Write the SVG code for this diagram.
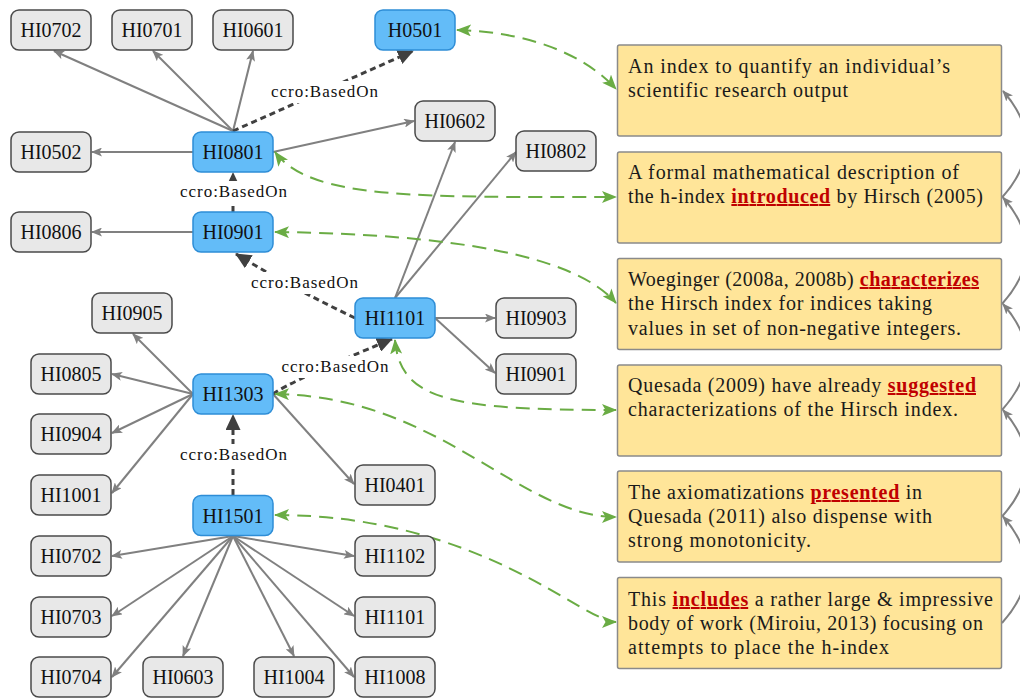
<svg xmlns="http://www.w3.org/2000/svg" width="1020" height="698" viewBox="0 0 1020 698">
  <style>
    .node rect { stroke-width: 1.5; }
    .gray rect { fill: #e8e8e8; stroke: #4a4a4a; }
    .blue rect { fill: #63bcf8; stroke: #2e8dd6; }
    .node text { font-family: "Liberation Serif", "Times New Roman", serif; font-size: 20px; fill: #111; text-anchor: middle; }
    .sent rect { fill: #ffe599; stroke: #8a8a8a; stroke-width: 1.5; }
    .sent text { font-family: "Liberation Serif", "Times New Roman", serif; font-size: 20px; fill: #1a1a1a; }
    .hl { fill: #c00000; font-weight: bold; text-decoration: underline; }
    .link { fill: none; stroke: #808080; stroke-width: 2; marker-end: url(#headGray); }
    .based { fill: none; stroke: #404040; stroke-width: 3; stroke-dasharray: 6 4; marker-end: url(#headDark); }
    .ref { fill: none; stroke: #6aac44; stroke-width: 2; stroke-dasharray: 14 8; marker-start: url(#headGreen); marker-end: url(#headGreen); }
    .next { fill: none; stroke: #808080; stroke-width: 2; marker-end: url(#headGray); }
    .lblbg { fill: #ffffff; }
    .lbl { font-family: "Liberation Serif", "Times New Roman", serif; font-size: 17px; fill: #111; text-anchor: middle; }
  </style>
  <defs>
    <marker id="headGray" viewBox="0 0 11 9" refX="10" refY="4.5" markerWidth="11" markerHeight="9" markerUnits="userSpaceOnUse" orient="auto">
      <path d="M0,0 L11,4.5 L0,9 L2.5,4.5 z" fill="#808080"/>
    </marker>
    <marker id="headDark" viewBox="0 0 16 15" refX="15" refY="7.5" markerWidth="16" markerHeight="15" markerUnits="userSpaceOnUse" orient="auto">
      <path d="M0,0 L16,7.5 L0,15 z" fill="#404040"/>
    </marker>
    <marker id="headGreen" viewBox="0 0 15 12" refX="14" refY="6" markerWidth="15" markerHeight="12" markerUnits="userSpaceOnUse" orient="auto-start-reverse">
      <path d="M0,0 L15,6 L0,12 L3.5,6 z" fill="#6aac44"/>
    </marker>
  </defs>

  <!-- connectors -->
  <g id="connectors">
    <!-- citation links -->
    <path class="link" d="M233,131 L54,51"/>
    <path class="link" d="M233,131 L153,51"/>
    <path class="link" d="M233,131 L253,51"/>
    <path class="link" d="M193,152 L92,152"/>
    <path class="link" d="M273,152 L414,121"/>
    <path class="link" d="M193,232 L92,232"/>
    <path class="link" d="M395,298 L455,142"/>
    <path class="link" d="M395,298 L516,152"/>
    <path class="link" d="M435,318 L495,318"/>
    <path class="link" d="M435,318 L495,373"/>
    <path class="link" d="M193,394 L133,334"/>
    <path class="link" d="M193,394 L112,374"/>
    <path class="link" d="M193,394 L112,433"/>
    <path class="link" d="M193,394 L112,493"/>
    <path class="link" d="M273,394 L354,484"/>
    <path class="link" d="M233,536 L112,556"/>
    <path class="link" d="M233,536 L112,616"/>
    <path class="link" d="M233,536 L112,677"/>
    <path class="link" d="M233,536 L183,656"/>
    <path class="link" d="M233,536 L294,656"/>
    <path class="link" d="M233,536 L354,556"/>
    <path class="link" d="M233,536 L354,616"/>
    <path class="link" d="M233,536 L354,677"/>

    <!-- ccro:BasedOn relations -->
    <path class="based" d="M233,131 L413,51"/>
    <path class="based" d="M233,212 L233,173"/>
    <path class="based" d="M355,318 Q292,288 236,254"/>
    <path class="based" d="M273,394 Q291,381 392,339"/>
    <path class="based" d="M233,495 L233,415"/>

    <!-- relation labels -->
    <rect class="lblbg" x="268" y="81" width="113" height="22"/>
    <text class="lbl" x="324.5" y="97" textLength="107">ccro:BasedOn</text>
    <rect class="lblbg" x="177" y="181" width="113" height="22"/>
    <text class="lbl" x="233.5" y="197" textLength="107">ccro:BasedOn</text>
    <rect class="lblbg" x="248" y="272" width="113" height="22"/>
    <text class="lbl" x="304.5" y="288" textLength="107">ccro:BasedOn</text>
    <rect class="lblbg" x="279" y="356" width="113" height="22"/>
    <text class="lbl" x="335" y="372" textLength="107">ccro:BasedOn</text>
    <rect class="lblbg" x="177" y="444" width="113" height="22"/>
    <text class="lbl" x="233.5" y="460" textLength="107">ccro:BasedOn</text>

    <!-- node to sentence references -->
    <path class="ref" d="M457,30 C530,32 585,55 616,89"/>
    <path class="ref" d="M275,152 C310,200 420,197 616,197"/>
    <path class="ref" d="M275,232 C450,234 575,255 616,303"/>
    <path class="ref" d="M395,340 C400,400 450,410 616,410"/>
    <path class="ref" d="M275,394 C440,396 520,517 616,517"/>
    <path class="ref" d="M275,515 C480,515 583,622 616,622"/>

    <!-- sentence sequence -->
    <path class="next" d="M1002,623 Q1050,569.7 1003,516.5"/>
    <path class="next" d="M1002,516.5 Q1050,463 1003,410"/>
    <path class="next" d="M1002,410 Q1050,357 1003,304"/>
    <path class="next" d="M1002,304 Q1050,250.7 1003,197.5"/>
    <path class="next" d="M1002,197.5 Q1050,144 1003,91"/>
  </g>

  <!-- nodes -->
  <g id="n-HI0702-a" class="node gray"><rect x="11" y="10" width="80" height="40" rx="8"/><text x="51" y="37">HI0702</text></g>
  <g id="n-HI0701" class="node gray"><rect x="112" y="10" width="80" height="40" rx="8"/><text x="152" y="37">HI0701</text></g>
  <g id="n-HI0601" class="node gray"><rect x="213" y="10" width="80" height="40" rx="8"/><text x="253" y="37">HI0601</text></g>
  <g id="n-H0501" class="node blue"><rect x="375" y="10" width="80" height="40" rx="8"/><text x="415" y="37">H0501</text></g>
  <g id="n-HI0502" class="node gray"><rect x="11" y="132" width="80" height="40" rx="8"/><text x="51" y="159">HI0502</text></g>
  <g id="n-HI0801" class="node blue"><rect x="193" y="132" width="80" height="40" rx="8"/><text x="233" y="159">HI0801</text></g>
  <g id="n-HI0806" class="node gray"><rect x="11" y="212" width="80" height="40" rx="8"/><text x="51" y="239">HI0806</text></g>
  <g id="n-HI0901" class="node blue"><rect x="193" y="212" width="80" height="40" rx="8"/><text x="233" y="239">HI0901</text></g>
  <g id="n-HI0602" class="node gray"><rect x="415" y="101" width="80" height="40" rx="8"/><text x="455" y="128">HI0602</text></g>
  <g id="n-HI0802" class="node gray"><rect x="516" y="131" width="80" height="40" rx="8"/><text x="556" y="158">HI0802</text></g>
  <g id="n-HI1101" class="node blue"><rect x="355" y="298" width="80" height="40" rx="8"/><text x="395" y="325">HI1101</text></g>
  <g id="n-HI0903" class="node gray"><rect x="496" y="298" width="80" height="40" rx="8"/><text x="536" y="325">HI0903</text></g>
  <g id="n-HI0901-b" class="node gray"><rect x="496" y="354" width="80" height="40" rx="8"/><text x="536" y="381">HI0901</text></g>
  <g id="n-HI0905" class="node gray"><rect x="92" y="293" width="80" height="40" rx="8"/><text x="132" y="320">HI0905</text></g>
  <g id="n-HI0805" class="node gray"><rect x="31" y="354" width="80" height="40" rx="8"/><text x="71" y="381">HI0805</text></g>
  <g id="n-HI1303" class="node blue"><rect x="193" y="374" width="80" height="40" rx="8"/><text x="233" y="401">HI1303</text></g>
  <g id="n-HI0904" class="node gray"><rect x="31" y="414" width="80" height="40" rx="8"/><text x="71" y="441">HI0904</text></g>
  <g id="n-HI1001" class="node gray"><rect x="31" y="475" width="80" height="40" rx="8"/><text x="71" y="502">HI1001</text></g>
  <g id="n-HI0401" class="node gray"><rect x="355" y="465" width="80" height="40" rx="8"/><text x="395" y="492">HI0401</text></g>
  <g id="n-HI1501" class="node blue"><rect x="193" y="495.5" width="80" height="40" rx="8"/><text x="233" y="522.5">HI1501</text></g>
  <g id="n-HI0702-b" class="node gray"><rect x="31" y="536" width="80" height="40" rx="8"/><text x="71" y="563">HI0702</text></g>
  <g id="n-HI1102" class="node gray"><rect x="355" y="536" width="80" height="40" rx="8"/><text x="395" y="563">HI1102</text></g>
  <g id="n-HI0703" class="node gray"><rect x="31" y="597" width="80" height="40" rx="8"/><text x="71" y="624">HI0703</text></g>
  <g id="n-HI1101-b" class="node gray"><rect x="355" y="597" width="80" height="40" rx="8"/><text x="395" y="624">HI1101</text></g>
  <g id="n-HI0704" class="node gray"><rect x="31" y="657" width="80" height="40" rx="8"/><text x="71" y="684">HI0704</text></g>
  <g id="n-HI0603" class="node gray"><rect x="143" y="657" width="80" height="40" rx="8"/><text x="183" y="684">HI0603</text></g>
  <g id="n-HI1004" class="node gray"><rect x="254" y="657" width="80" height="40" rx="8"/><text x="294" y="684">HI1004</text></g>
  <g id="n-HI1008" class="node gray"><rect x="355" y="657" width="80" height="40" rx="8"/><text x="395" y="684">HI1008</text></g>

  <!-- sentences -->
  <g id="s1" class="sent">
    <rect x="617.5" y="45" width="384" height="91" rx="2"/>
    <text x="628" y="73" textLength="322">An index to quantify an individual’s</text>
    <text x="628" y="97" textLength="220">scientific research output</text>
  </g>
  <g id="s2" class="sent">
    <rect x="617.5" y="152" width="384" height="91" rx="2"/>
    <text x="628" y="179" textLength="331">A formal mathematical description of</text>
    <text x="628" y="203" textLength="355">the h-index <tspan class="hl">introduced</tspan> by Hirsch (2005)</text>
  </g>
  <g id="s3" class="sent">
    <rect x="617.5" y="258.5" width="384" height="91" rx="2"/>
    <text x="628" y="286" textLength="351">Woeginger (2008a, 2008b) <tspan class="hl">characterizes</tspan></text>
    <text x="628" y="310" textLength="304">the Hirsch index for indices taking</text>
    <text x="628" y="335" textLength="333">values in set of non-negative integers.</text>
  </g>
  <g id="s4" class="sent">
    <rect x="617.5" y="365" width="384" height="91" rx="2"/>
    <text x="628" y="392" textLength="348">Quesada (2009) have already <tspan class="hl">suggested</tspan></text>
    <text x="628" y="416" textLength="330">characterizations of the Hirsch index.</text>
  </g>
  <g id="s5" class="sent">
    <rect x="617.5" y="471" width="384" height="91" rx="2"/>
    <text x="628" y="499" textLength="294">The axiomatizations <tspan class="hl">presented</tspan> in</text>
    <text x="628" y="523" textLength="304">Quesada (2011) also dispense with</text>
    <text x="628" y="547" textLength="183">strong monotonicity.</text>
  </g>
  <g id="s6" class="sent">
    <rect x="617.5" y="577.5" width="384" height="91" rx="2"/>
    <text x="628" y="606" textLength="365">This <tspan class="hl">includes</tspan> a rather large &amp; impressive</text>
    <text x="628" y="630" textLength="355">body of work (Miroiu, 2013) focusing on</text>
    <text x="628" y="654" textLength="261">attempts to place the h-index</text>
  </g>
</svg>
